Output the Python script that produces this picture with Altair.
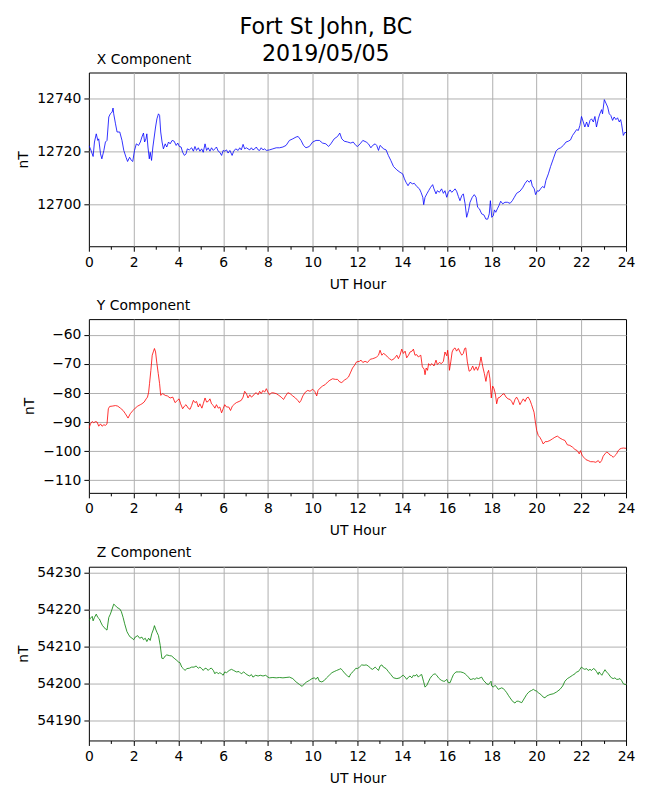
import altair as alt
import pandas as pd

suptitle = ["Fort St John, BC", "2019/05/05"]
panel_titles = ["X Component", "Y Component", "Z Component"]
x_axis_title = "UT Hour"
y_axis_title = "nT"
hour_ticks = list(range(0, 25))

x_hours = [0.00, 0.07, 0.19, 0.25, 0.33, 0.40, 0.44, 0.52, 0.58, 0.67, 0.74, 0.81, 0.89, 0.96, 1.04, 1.08, 1.11, 1.19, 1.26, 1.38,
           1.48, 1.56, 1.66, 1.73, 1.82, 1.90, 1.96, 2.04, 2.12, 2.22, 2.30, 2.37, 2.44, 2.49, 2.55, 2.59, 2.64, 2.70, 2.74, 2.80,
           2.86, 2.92, 2.98, 3.04, 3.11, 3.16, 3.21, 3.27, 3.33, 3.41, 3.48, 3.56, 3.63, 3.72, 3.81, 3.90, 3.97, 4.04, 4.12, 4.19,
           4.27, 4.34, 4.40, 4.49, 4.59, 4.67, 4.74, 4.81, 4.89, 4.96, 5.04, 5.11, 5.19, 5.26, 5.33, 5.41, 5.48, 5.56, 5.63, 5.70,
           5.78, 5.85, 5.93, 6.00, 6.07, 6.15, 6.22, 6.30, 6.40, 6.47, 6.56, 6.67, 6.74, 6.81, 6.89, 6.96, 7.04, 7.11, 7.19, 7.26,
           7.33, 7.41, 7.48, 7.56, 7.63, 7.70, 7.78, 7.85, 7.93, 8.07, 8.22, 8.37, 8.52, 8.67, 8.81, 8.96, 9.11, 9.26, 9.35, 9.48,
           9.59, 9.70, 9.85, 10.00, 10.15, 10.30, 10.44, 10.59, 10.71, 10.81, 10.96, 11.11, 11.21, 11.30, 11.41, 11.56, 11.70, 11.81, 11.93,
           12.00, 12.12, 12.24, 12.39, 12.49, 12.60, 12.68, 12.79, 12.86, 12.94, 13.01, 13.09, 13.16, 13.28, 13.38, 13.49, 13.61, 13.76, 13.90, 14.02,
           14.10, 14.17, 14.26, 14.35, 14.46, 14.54, 14.65, 14.77, 14.84, 14.92, 14.96, 15.02, 15.10, 15.18, 15.27, 15.36, 15.42, 15.51, 15.57, 15.66,
           15.76, 15.84, 15.91, 15.99, 16.06, 16.14, 16.21, 16.29, 16.36, 16.43, 16.51, 16.58, 16.66, 16.73, 16.81, 16.88, 16.96, 17.03, 17.13, 17.22,
           17.30, 17.37, 17.45, 17.55, 17.65, 17.74, 17.82, 17.89, 17.94, 18.00, 18.07, 18.12, 18.18, 18.25, 18.32, 18.40, 18.49, 18.59, 18.70, 18.82,
           18.92, 19.01, 19.11, 19.26, 19.38, 19.49, 19.59, 19.68, 19.75, 19.81, 19.90, 19.96, 20.04, 20.11, 20.18, 20.27, 20.35, 20.42, 20.53, 20.63,
           20.75, 20.87, 20.97, 21.08, 21.20, 21.32, 21.42, 21.52, 21.61, 21.72, 21.79, 21.87, 21.94, 22.01, 22.09, 22.16, 22.24, 22.31, 22.39, 22.46,
           22.54, 22.61, 22.68, 22.76, 22.83, 22.91, 22.95, 23.03, 23.10, 23.18, 23.25, 23.32, 23.40, 23.47, 23.55, 23.62, 23.70, 23.76, 23.80, 23.88,
           23.96, 24.00]
x_values = [12722.3, 12721.0, 12718.1, 12723.6, 12726.7, 12724.2, 12724.8, 12719.1, 12717.2, 12720.4, 12723.6, 12724.2, 12733.1, 12734.3, 12735.0, 12736.5, 12734.3, 12730.5, 12727.4, 12727.4,
            12724.2, 12720.4, 12717.8, 12716.2, 12717.8, 12716.6, 12716.2, 12720.4, 12722.9, 12722.3, 12723.6, 12725.5, 12727.0, 12723.6, 12724.8, 12726.7, 12721.7, 12717.2, 12719.7, 12716.6,
            12721.7, 12725.5, 12729.3, 12732.4, 12734.3, 12733.7, 12727.4, 12723.6, 12721.0, 12722.9, 12721.7, 12723.6, 12722.9, 12724.2, 12723.9, 12722.3, 12723.2, 12721.9, 12721.7, 12719.7,
            12718.5, 12719.1, 12721.0, 12720.6, 12721.4, 12720.1, 12721.9, 12720.4, 12721.4, 12720.1, 12721.0, 12719.7, 12722.9, 12720.4, 12721.4, 12720.1, 12721.4, 12720.4, 12721.0, 12721.7,
            12720.1, 12719.7, 12718.5, 12720.4, 12720.1, 12720.6, 12719.4, 12720.4, 12718.5, 12720.1, 12721.0, 12720.4, 12721.4, 12720.6, 12722.7, 12721.0, 12721.4, 12721.0, 12720.6, 12721.4,
            12720.6, 12721.0, 12721.7, 12720.6, 12720.4, 12721.4, 12720.6, 12721.0, 12720.4, 12720.6, 12721.0, 12721.4, 12721.4, 12721.7, 12722.3, 12724.2, 12724.8, 12725.5, 12725.7, 12724.2,
            12722.3, 12721.4, 12721.9, 12723.6, 12724.2, 12724.2, 12723.2, 12722.9, 12721.9, 12722.9, 12724.8, 12725.7, 12727.0, 12724.8, 12723.9, 12723.6, 12723.2, 12723.6, 12722.3,
            12721.9, 12722.9, 12724.2, 12723.6, 12722.9, 12721.4, 12722.3, 12722.9, 12722.3, 12720.4, 12722.3, 12721.7, 12721.0, 12720.6, 12718.5, 12716.6, 12714.3, 12713.0, 12712.1, 12711.5,
            12709.6, 12708.3, 12707.0, 12708.3, 12707.7, 12707.9, 12706.7, 12705.8, 12704.5, 12702.6, 12699.8, 12702.6, 12703.9, 12705.1, 12706.4, 12707.4, 12705.8, 12703.9, 12705.1, 12704.5,
            12705.8, 12704.1, 12705.1, 12702.6, 12704.5, 12705.4, 12704.5, 12705.1, 12705.8, 12704.9, 12702.9, 12701.3, 12703.2, 12703.9, 12700.1, 12695.0, 12697.5, 12700.7, 12702.6, 12703.6,
            12702.6, 12698.8, 12698.2, 12696.3, 12695.9, 12694.3, 12694.3, 12696.3, 12701.3, 12695.0, 12695.6, 12697.8, 12696.9, 12698.2, 12699.4, 12701.1, 12700.1, 12700.7, 12700.7, 12700.3,
            12701.3, 12702.6, 12704.1, 12704.9, 12706.2, 12707.9, 12709.0, 12708.3, 12709.2, 12707.0, 12705.8, 12703.6, 12705.1, 12704.9, 12705.8, 12706.7, 12706.2, 12709.0, 12711.5, 12714.3,
            12717.2, 12720.1, 12721.0, 12721.4, 12722.3, 12723.6, 12723.9, 12724.4, 12726.1, 12727.4, 12728.3, 12728.0, 12729.9, 12733.3, 12731.2, 12729.3, 12731.2, 12729.3, 12731.8, 12732.4,
            12731.2, 12733.3, 12729.3, 12732.4, 12734.3, 12735.9, 12734.3, 12739.7, 12738.4, 12736.9, 12734.3, 12733.7, 12731.8, 12733.1, 12732.1, 12732.8, 12731.2, 12732.1, 12730.5, 12726.1,
            12727.4, 12727.0]

y_hours = [0.00, 0.07, 0.15, 0.22, 0.30, 0.37, 0.44, 0.52, 0.59, 0.67, 0.74, 0.81, 0.87, 0.93, 1.04, 1.19, 1.29, 1.41, 1.53, 1.63,
           1.75, 1.85, 1.97, 2.07, 2.18, 2.30, 2.37, 2.47, 2.56, 2.62, 2.67, 2.71, 2.77, 2.83, 2.89, 2.93, 2.98, 3.04, 3.10, 3.16,
           3.21, 3.30, 3.41, 3.51, 3.63, 3.75, 3.85, 3.96, 4.03, 4.10, 4.19, 4.27, 4.34, 4.44, 4.52, 4.59, 4.67, 4.74, 4.81, 4.89,
           4.96, 5.05, 5.11, 5.19, 5.26, 5.33, 5.41, 5.48, 5.56, 5.63, 5.70, 5.78, 5.85, 5.93, 6.00, 6.07, 6.15, 6.25, 6.33, 6.41,
           6.52, 6.59, 6.71, 6.81, 6.89, 6.96, 7.04, 7.11, 7.19, 7.26, 7.33, 7.41, 7.48, 7.56, 7.63, 7.70, 7.78, 7.85, 7.93, 8.00,
           8.07, 8.15, 8.22, 8.37, 8.49, 8.59, 8.70, 8.79, 8.89, 8.99, 9.11, 9.23, 9.33, 9.41, 9.48, 9.56, 9.67, 9.78, 9.88, 10.00,
           10.09, 10.18, 10.24, 10.33, 10.44, 10.56, 10.67, 10.77, 10.89, 11.01, 11.11, 11.21, 11.30, 11.41, 11.51, 11.60, 11.70, 11.78, 11.85, 11.96,
           12.09, 12.16, 12.24, 12.34, 12.45, 12.57, 12.68, 12.79, 12.86, 12.94, 13.01, 13.09, 13.16, 13.25, 13.34, 13.43, 13.53, 13.64, 13.76, 13.83,
           13.90, 13.98, 14.05, 14.13, 14.20, 14.28, 14.35, 14.44, 14.50, 14.57, 14.65, 14.72, 14.83, 14.90, 14.98, 15.02, 15.07, 15.13, 15.18, 15.24,
           15.33, 15.42, 15.51, 15.57, 15.66, 15.75, 15.84, 15.91, 15.99, 16.03, 16.08, 16.11, 16.17, 16.23, 16.29, 16.36, 16.43, 16.51, 16.58, 16.66,
           16.73, 16.79, 16.84, 16.91, 16.99, 17.06, 17.15, 17.22, 17.30, 17.37, 17.45, 17.52, 17.60, 17.67, 17.74, 17.80, 17.86, 17.92, 17.98, 18.04,
           18.10, 18.16, 18.22, 18.28, 18.37, 18.46, 18.55, 18.64, 18.73, 18.82, 18.89, 18.96, 19.04, 19.11, 19.19, 19.26, 19.34, 19.41, 19.49, 19.56,
           19.63, 19.71, 19.78, 19.89, 19.95, 20.01, 20.08, 20.15, 20.23, 20.30, 20.39, 20.48, 20.60, 20.72, 20.82, 20.93, 21.05, 21.17, 21.27, 21.38,
           21.49, 21.61, 21.72, 21.82, 21.91, 21.97, 22.04, 22.12, 22.21, 22.31, 22.42, 22.54, 22.65, 22.76, 22.83, 22.91, 22.98, 23.06, 23.13, 23.21,
           23.28, 23.35, 23.43, 23.50, 23.58, 23.65, 23.73, 23.80, 23.88, 24.00]
y_values = [-92.3, -90.6, -89.8, -90.2, -89.8, -90.0, -91.4, -90.6, -91.4, -90.9, -91.1, -90.6, -85.4, -84.6, -84.5, -84.3, -84.5, -85.2, -86.0, -87.1,
            -88.6, -87.1, -86.0, -85.2, -84.5, -84.0, -83.7, -83.1, -82.0, -81.4, -79.7, -76.8, -72.2, -67.0, -65.6, -64.7, -65.9, -69.9, -73.3, -76.8,
            -80.8, -80.2, -80.8, -81.0, -81.7, -81.4, -83.3, -82.5, -82.0, -83.7, -85.4, -84.5, -84.0, -85.2, -85.6, -84.3, -82.5, -83.3, -82.9, -84.8,
            -83.7, -85.2, -83.7, -81.7, -83.1, -82.9, -82.0, -83.7, -84.3, -85.2, -84.0, -85.2, -84.8, -86.8, -85.4, -84.0, -84.8, -84.8, -86.0, -84.5,
            -83.7, -83.3, -82.9, -82.5, -81.4, -79.4, -80.2, -81.7, -80.6, -81.4, -81.0, -80.2, -79.9, -80.6, -79.4, -80.2, -79.1, -79.7, -78.5, -79.7,
            -80.6, -80.0, -79.9, -80.2, -80.8, -81.4, -82.2, -81.0, -79.9, -80.2, -81.0, -81.7, -82.5, -83.3, -82.5, -81.0, -79.7, -79.1, -79.4, -78.7,
            -79.4, -81.0, -79.1, -78.3, -77.6, -77.1, -76.2, -75.6, -75.1, -75.3, -75.3, -76.2, -76.4, -75.6, -75.1, -74.5, -72.8, -71.4, -70.7, -69.3,
            -69.1, -68.7, -69.5, -69.1, -69.5, -68.4, -68.2, -67.9, -67.6, -67.0, -65.3, -67.0, -66.4, -66.8, -67.6, -68.2, -68.7, -68.2, -67.0, -68.2,
            -67.0, -64.9, -66.4, -65.6, -67.9, -67.0, -65.9, -65.6, -64.9, -67.0, -66.8, -67.6, -67.0, -71.0, -71.8, -73.7, -71.4, -72.2, -69.9, -70.5,
            -69.9, -70.7, -68.7, -70.2, -69.5, -69.9, -69.1, -65.9, -67.2, -65.3, -68.7, -72.2, -69.3, -65.9, -64.9, -64.5, -65.6, -64.7, -65.9, -67.0,
            -66.4, -64.7, -64.5, -69.3, -72.5, -72.2, -70.7, -72.2, -71.0, -72.2, -70.5, -67.6, -71.0, -73.3, -76.0, -73.3, -72.2, -75.1, -81.7, -77.6,
            -78.5, -80.2, -83.7, -81.7, -81.4, -80.6, -80.2, -81.4, -82.0, -82.2, -82.9, -84.0, -82.2, -81.4, -82.5, -84.0, -82.9, -82.0, -82.9, -81.7,
            -81.4, -82.5, -84.0, -86.6, -90.0, -92.9, -94.6, -95.2, -96.3, -97.5, -96.7, -96.7, -96.3, -95.7, -95.2, -94.8, -95.5, -96.0, -96.3, -97.8,
            -98.0, -98.6, -99.4, -99.8, -100.9, -99.8, -101.5, -102.1, -102.9, -103.2, -103.6, -103.6, -103.8, -103.2, -104.0, -103.2, -101.7, -100.9, -100.3, -100.6,
            -101.3, -101.5, -102.1, -101.5, -100.9, -99.8, -99.2, -99.0, -98.9, -99.0]

z_hours = [0.00, 0.07, 0.15, 0.19, 0.25, 0.33, 0.40, 0.47, 0.55, 0.61, 0.67, 0.74, 0.81, 0.89, 0.96, 1.04, 1.11, 1.19, 1.26, 1.38,
           1.45, 1.53, 1.60, 1.70, 1.78, 1.85, 1.93, 2.00, 2.07, 2.18, 2.27, 2.37, 2.44, 2.52, 2.59, 2.67, 2.74, 2.81, 2.89, 2.93,
           2.98, 3.04, 3.11, 3.19, 3.26, 3.33, 3.41, 3.48, 3.60, 3.70, 3.81, 3.93, 4.00, 4.07, 4.15, 4.22, 4.30, 4.37, 4.49, 4.59,
           4.70, 4.79, 4.89, 4.96, 5.04, 5.11, 5.19, 5.26, 5.33, 5.41, 5.48, 5.56, 5.63, 5.70, 5.78, 5.85, 5.93, 6.00, 6.07, 6.15,
           6.27, 6.37, 6.47, 6.59, 6.71, 6.81, 6.92, 7.01, 7.11, 7.19, 7.26, 7.33, 7.45, 7.56, 7.66, 7.78, 7.90, 8.00, 8.07, 8.22,
           8.37, 8.52, 8.67, 8.81, 8.96, 9.11, 9.26, 9.41, 9.53, 9.63, 9.73, 9.85, 9.97, 10.07, 10.15, 10.22, 10.30, 10.41, 10.52, 10.62,
           10.74, 10.86, 10.96, 11.07, 11.19, 11.26, 11.33, 11.45, 11.56, 11.63, 11.70, 11.81, 11.93,
           12.00, 12.09, 12.19, 12.30, 12.39, 12.49, 12.60, 12.68, 12.79, 12.86, 12.94, 13.01, 13.09, 13.16, 13.28, 13.38, 13.49, 13.61, 13.76, 13.90,
           13.98, 14.05, 14.13, 14.20, 14.28, 14.35, 14.43, 14.50, 14.57, 14.65, 14.72, 14.80, 14.87, 14.95, 15.02, 15.10, 15.17, 15.24, 15.32, 15.39,
           15.47, 15.54, 15.62, 15.69, 15.76, 15.84, 15.91, 15.99, 16.06, 16.14, 16.21, 16.29, 16.40, 16.51, 16.61, 16.73, 16.81, 16.88, 16.96, 17.03,
           17.10, 17.18, 17.25, 17.33, 17.40, 17.48, 17.55, 17.63, 17.70, 17.77, 17.85, 17.92, 17.97, 18.00, 18.07, 18.15, 18.22, 18.29, 18.37, 18.44,
           18.52, 18.59, 18.67, 18.74, 18.82, 18.89, 18.96, 19.04, 19.11, 19.19, 19.26, 19.34, 19.41, 19.49, 19.56, 19.63, 19.71, 19.78, 19.86, 19.93,
           20.01, 20.08, 20.15, 20.23, 20.30, 20.38, 20.45, 20.53, 20.60, 20.75, 20.90, 21.05, 21.17, 21.27, 21.38, 21.49, 21.61, 21.72, 21.79, 21.87,
           21.94, 22.01, 22.09, 22.16, 22.24, 22.31, 22.39, 22.46, 22.54, 22.61, 22.68, 22.76, 22.80, 22.86, 22.92, 22.98, 23.06, 23.13, 23.21, 23.28,
           23.35, 23.43, 23.50, 23.58, 23.65, 23.73, 23.80, 23.88, 23.96, 24.00]
z_values = [54217.0, 54217.7, 54218.2, 54217.0, 54217.9, 54218.8, 54217.9, 54217.5, 54216.4, 54215.7, 54215.3, 54214.8, 54214.5, 54217.9, 54218.8, 54220.2, 54221.5, 54221.1, 54220.6, 54220.2,
            54219.5, 54217.9, 54216.2, 54214.1, 54213.2, 54212.6, 54212.3, 54211.9, 54212.6, 54213.0, 54212.3, 54212.6, 54211.9, 54212.3, 54211.4, 54212.3, 54211.7, 54213.5, 54214.8, 54215.7,
            54214.8, 54213.9, 54213.0, 54210.3, 54206.9, 54206.8, 54207.5, 54207.8, 54207.6, 54207.5, 54206.9, 54206.3, 54205.9, 54205.7, 54204.5, 54204.1, 54203.6, 54204.1, 54204.2, 54204.5,
            54204.5, 54204.8, 54204.2, 54204.5, 54204.1, 54203.6, 54204.2, 54204.1, 54203.6, 54204.1, 54204.2, 54203.6, 54202.7, 54203.2, 54202.7, 54203.0, 54202.7, 54202.3, 54203.2, 54203.0,
            54203.6, 54203.9, 54203.6, 54203.2, 54203.3, 54202.7, 54203.2, 54202.7, 54202.3, 54202.1, 54202.5, 54201.8, 54202.3, 54202.1, 54202.3, 54202.1, 54202.3, 54201.8, 54201.6, 54201.7,
            54201.6, 54201.7, 54201.6, 54201.7, 54201.8, 54201.4, 54200.5, 54199.8, 54199.3, 54200.0, 54200.5, 54200.9, 54201.4, 54201.6, 54201.2, 54201.8, 54200.7, 54200.5, 54200.9, 54201.6,
            54202.3, 54203.0, 54203.3, 54203.6, 54203.9, 54204.1, 54203.6, 54202.7, 54202.1, 54201.8, 54202.7, 54203.3, 54204.2,
            54204.1, 54204.5, 54205.1, 54205.0, 54205.1, 54204.8, 54204.1, 54203.9, 54204.5, 54204.1, 54203.6, 54204.8, 54205.1, 54204.5, 54204.1, 54203.3, 54202.5, 54201.6, 54201.4, 54201.6,
            54202.1, 54202.3, 54201.8, 54201.2, 54201.8, 54202.1, 54201.6, 54202.3, 54202.1, 54202.5, 54201.8, 54202.3, 54202.5, 54200.7, 54199.1, 54199.6, 54200.5, 54201.4, 54202.1, 54202.5,
            54202.7, 54202.3, 54201.6, 54201.2, 54200.9, 54200.7, 54200.7, 54201.2, 54200.3, 54200.3, 54201.4, 54202.5, 54203.2, 54203.2, 54203.2, 54203.0, 54202.7, 54202.3, 54201.8, 54201.2,
            54201.2, 54201.4, 54201.2, 54201.6, 54201.4, 54201.6, 54201.8, 54200.9, 54200.5, 54200.0, 54199.8, 54200.3, 54200.7, 54199.4, 54199.1, 54199.6, 54199.1, 54198.5, 54198.7, 54198.9,
            54198.7, 54198.2, 54197.6, 54196.9, 54196.2, 54195.6, 54195.1, 54194.8, 54195.3, 54195.3, 54195.1, 54194.9, 54195.6, 54196.4, 54197.1, 54197.6, 54198.0, 54198.2, 54198.5, 54198.2,
            54198.0, 54197.6, 54197.3, 54196.9, 54196.4, 54196.2, 54196.7, 54196.9, 54197.1, 54197.3, 54197.8, 54198.5, 54199.4, 54200.7, 54201.4, 54201.8, 54202.3, 54202.7, 54203.2, 54203.3,
            54203.9, 54204.5, 54204.1, 54203.9, 54204.1, 54203.6, 54203.9, 54203.6, 54204.1, 54203.9, 54203.3, 54202.5, 54203.2, 54202.7, 54202.3, 54203.0, 54203.8, 54203.2, 54202.7, 54202.1,
            54201.6, 54201.4, 54201.6, 54201.2, 54201.2, 54201.4, 54200.9, 54200.0, 54199.8, 54199.8]

x_ticks = [12700, 12720, 12740]
y_ticks = [-110, -100, -90, -80, -70, -60]
z_ticks = [54190, 54200, 54210, 54220, 54230]
x_domain = [12684, 12750]
y_domain = [-114.3, -54.6]
z_domain = [54184.7, 54231.6]

FONT = "DejaVu Sans"
FS = 13.9


def panel(hours, values, color, title, ticks, domain):
    df = pd.DataFrame({"hour": hours, "value": values})
    xaxis = alt.Axis(
        values=hour_ticks,
        title=x_axis_title,
        format="d",
        labelExpr="datum.value % 2 == 0 ? datum.label : ''",
        labelOverlap=False,
        labelFlush=False,
        tickSize={"condition": {"test": "datum.value % 2 == 0", "value": 5}, "value": 3},
        gridOpacity={"condition": {"test": "datum.value % 2 == 0 && datum.value > 0 && datum.value < 24", "value": 1}, "value": 0},
        labelPadding=4,
        titlePadding=8,
    )
    yaxis = alt.Axis(
        values=ticks,
        title=y_axis_title,
        format="d",
        tickSize=5,
        labelPadding=3,
        titlePadding=6,
    )
    return (
        alt.Chart(df, title=alt.TitleParams(title, anchor="start", frame="group", dx=8, offset=6,
                                            fontSize=FS, font=FONT, fontWeight="normal", color="black"))
        .mark_line(color=color, strokeWidth=0.8, clip=True)
        .encode(
            x=alt.X("hour:Q", scale=alt.Scale(domain=[0, 24], nice=False, zero=False), axis=xaxis),
            y=alt.Y("value:Q", scale=alt.Scale(domain=domain, nice=False, zero=False), axis=yaxis),
        )
        .properties(width=538, height=174)
    )


chart = alt.vconcat(
    panel(x_hours, x_values, "#0000ff", panel_titles[0], x_ticks, x_domain),
    panel(y_hours, y_values, "#ff0000", panel_titles[1], y_ticks, y_domain),
    panel(z_hours, z_values, "#008000", panel_titles[2], z_ticks, z_domain),
    spacing=6,
    title=alt.TitleParams(suptitle, anchor="middle", fontSize=22.2, font=FONT, fontWeight="normal",
                          color="black", lineHeight=27, offset=-13),
).properties(
    padding={"left": 8, "top": 7, "right": 6, "bottom": 0}
).configure_view(
    stroke="black", strokeWidth=1
).configure_axis(
    labelFont=FONT, labelFontSize=FS, labelColor="black",
    titleFont=FONT, titleFontSize=FS, titleFontWeight="normal", titleColor="black",
    tickColor="black", domainColor="black", domain=False,
    gridColor="#b0b0b0", gridWidth=1, tickWidth=1,
)

chart.save("out.html", embed_options={"renderer": "svg", "actions": False})
